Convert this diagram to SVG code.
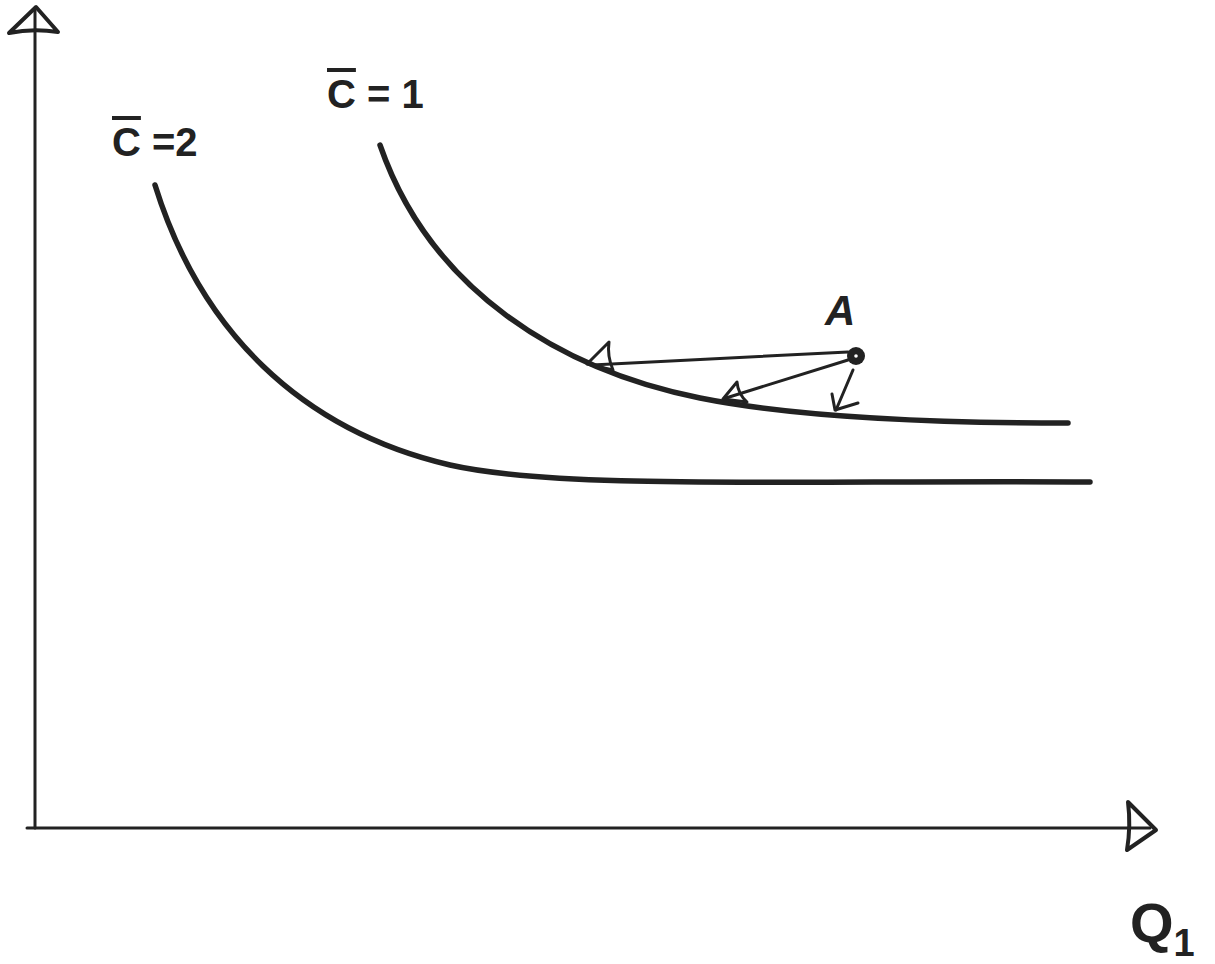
<svg xmlns="http://www.w3.org/2000/svg" width="1215" height="964" viewBox="0 0 1215 964">
<style>
.ax{fill:none;stroke:#222;stroke-width:3;stroke-linecap:round;stroke-linejoin:round}
.ah{fill:none;stroke:#222;stroke-width:4;stroke-linecap:round;stroke-linejoin:round}
.cv{fill:none;stroke:#222;stroke-width:5.5;stroke-linecap:round}
.ar{fill:none;stroke:#222;stroke-width:3;stroke-linecap:round;stroke-linejoin:round}
.lb{font-family:"Liberation Sans",Arial,sans-serif;fill:#222;font-weight:bold}
</style>
<rect width="1215" height="964" fill="#fff"/>
<g id="axes">
<path class="ax" d="M35,10 L35,828"/>
<path class="ah" d="M36,7 L9,33 Q33,28 58,32 Z"/>
<path class="ax" d="M27,828 L1150,828"/>
<path class="ah" d="M1128,802 L1156,830 L1127,850 Q1131,826 1128,802 Z"/>
</g>
<g id="curve-c1">
<path class="cv" d="M380,145 C430,290 560,370 700,398 C800,418 950,423 1068,423"/>
</g>
<g id="curve-c2">
<path class="cv" d="M155,185 C200,330 300,430 450,465 C560,490 800,480 1090,482"/>
</g>
<g id="point-a">
<circle cx="856" cy="356" r="9" fill="#222"/>
<circle cx="856" cy="356" r="1.8" fill="#fff"/>
</g>
<g id="connectors">
<path class="ar" d="M848,352 L592,365"/>
<path class="ar" d="M587,364 L609,342 Q607,356 613,370 Z"/>
<path class="ar" d="M848,360 L726,398"/>
<path class="ar" d="M723,399 L737,382 Q738,394 747,402 Z"/>
<path class="ar" d="M853,370 L836,410"/>
<path class="ar" d="M832,394 L835,410 L858,403"/>
</g>
<g id="labels">
<text class="lb" x="112" y="156" font-size="40"><tspan style="text-decoration:overline">C</tspan> =2</text>
<text class="lb" x="327" y="108" font-size="40"><tspan style="text-decoration:overline">C</tspan> = 1</text>
<text class="lb" x="825" y="325" font-size="42" font-style="italic">A</text>
<text class="lb" x="1130" y="942" font-size="56">Q<tspan font-size="38" dy="14">1</tspan></text>
</g>
</svg>
